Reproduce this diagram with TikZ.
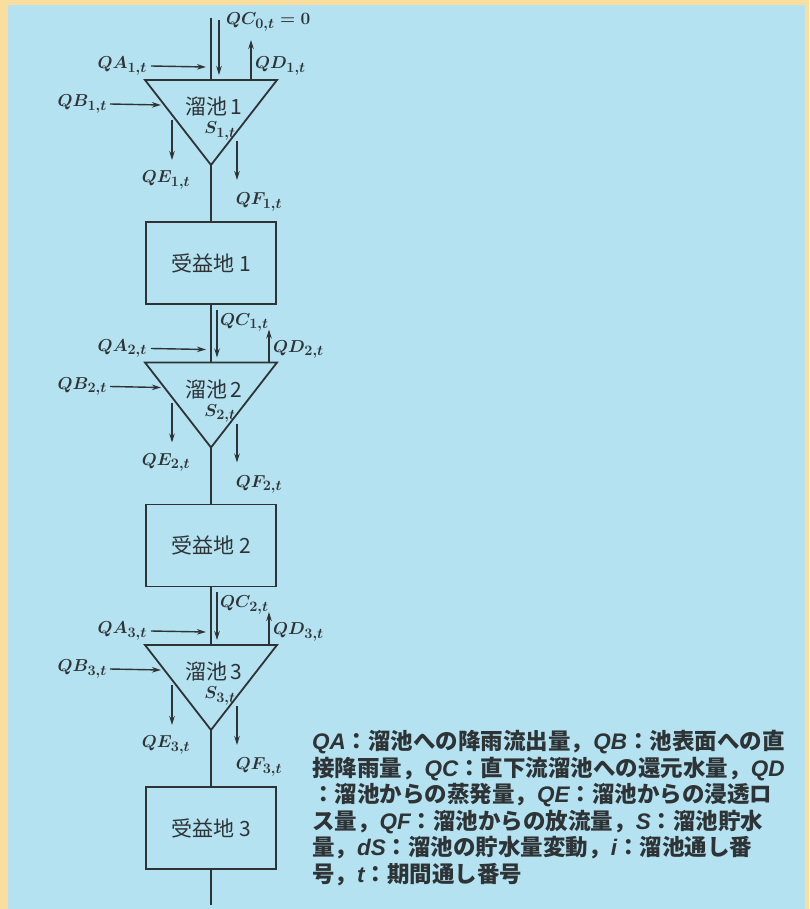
\documentclass[tikz,border=0pt]{standalone}
\usepackage{fontspec}
\usetikzlibrary{arrows.meta,positioning}
\newfontfamily\jpfont{Noto Sans CJK JP}
\newfontfamily\legsans{Liberation Sans}
\definecolor{rpsky}{HTML}{B4E2F0}
\definecolor{rpframe}{HTML}{F9DE9E}
\definecolor{rpink}{HTML}{2E3336}
\tikzstyle{pondline}=[draw=rpink,line width=1.8pt,line join=miter]
\tikzstyle{mainline}=[draw=rpink,line width=1.7pt]
\tikzstyle{flow}=[draw=rpink,line width=1.4pt,-{Stealth[length=9pt,width=5.5pt]}]
\tikzstyle{fieldbox}=[draw=rpink,line width=1.8pt,minimum width=130pt,minimum height=82pt,
  font=\jpfont\fontsize{21}{24}\selectfont,text=rpink,inner sep=0pt]
\tikzstyle{pondtext}=[font=\jpfont\fontsize{21}{24}\selectfont,text=rpink,inner sep=0pt]
\tikzstyle{qlabel}=[font=\fontsize{19}{22}\selectfont\boldmath,text=rpink,inner sep=1pt]
\tikzstyle{legend}=[font=\jpfont\bfseries\fontsize{22.5}{26.5}\selectfont,text=rpink,
  align=left,inner sep=0pt]
\newcommand{\legq}[1]{{\legsans\itshape #1}}

\begin{document}
\begin{tikzpicture}[x=1pt,y=-1pt]
  \fill[rpframe] (0,0) rectangle (809,909);
  \fill[rpsky] (8,5) rectangle (805,909);
  \useasboundingbox (0,0) rectangle (809,909);
  % trunk ends
  \coordinate (top) at (211,18);
  \coordinate (bottom) at (211,905);
  % ponds and fields
  \foreach \i in {1,2,3} {
    \pgfmathsetmacro{\yo}{80+282.5*(\i-1)}
    \coordinate (in\i) at (211,\yo);
    \coordinate (pl\i) at (145,\yo);
    \coordinate (pr\i) at (277,\yo);
    \coordinate (pb\i) at (211,\yo+85);
    \draw[pondline] (pl\i) -- (pr\i) -- (pb\i) -- cycle;
    \node[pondtext] (pn\i) at (214,\yo+27) {溜池\,\i};
    \node[qlabel] (s\i) at (220,\yo+51) {$S_{\i,t}$};
    \node[fieldbox] (field\i) at (211,\yo+183) {受益地\ \i};
    \draw[mainline] (pb\i) -- (field\i.north);
    % inflows
    \node[qlabel,anchor=east,inner xsep=4pt] (qa\i) at (151,\yo-14) {$QA_{\i,t}$};
    \coordinate (qae\i) at (206,\yo-13);
    \draw[flow] (qa\i.east) -- (qae\i);
    \node[qlabel,anchor=east,inner xsep=3pt] (qb\i) at (110,\yo+24) {$QB_{\i,t}$};
    \coordinate (qbe\i) at (161,\yo+25);
    \draw[flow] (qb\i.east) -- (qbe\i);
    % outflows
    \coordinate (qes\i) at (172,\yo+40);
    \coordinate (qee\i) at (172,\yo+80);
    \draw[flow] (qes\i) -- (qee\i);
    \node[qlabel] (qe\i) at (166,\yo+100) {$QE_{\i,t}$};
    \coordinate (qfs\i) at (237,\yo+61);
    \coordinate (qfe\i) at (237,\yo+100);
    \draw[flow] (qfs\i) -- (qfe\i);
    \node[qlabel] (qf\i) at (259,\yo+122) {$QF_{\i,t}$};
  }
  % first pond top
  \draw[mainline] (top) -- (in1);
  \coordinate (qcs1) at (219,20);
  \coordinate (qce1) at (219,75);
  \draw[flow] (qcs1) -- (qce1);
  \node[qlabel,anchor=west] (qc1) at (225,22) {$QC_{0,t}=0$};
  \coordinate (qds1) at (251,80);
  \coordinate (qde1) at (251,40);
  \draw[flow] (qds1) -- (qde1);
  \node[qlabel,anchor=west] (qd1) at (254,66) {$QD_{1,t}$};
  % links between field and next pond
  \foreach \i [evaluate=\i as \j using int(\i-1)] in {2,3} {
    \pgfmathsetmacro{\yo}{80+282.5*(\i-1)}
    \draw[mainline] (field\j.south) -- (in\i);
    \coordinate (qcs\i) at (217,\yo-53);
    \coordinate (qce\i) at (217,\yo-5);
    \draw[flow] (qcs\i) -- (qce\i);
    \node[qlabel,anchor=west] (qc\i) at (219,\yo-40) {$QC_{\j,t}$};
    \coordinate (qds\i) at (269,\yo);
    \coordinate (qde\i) at (269,\yo-33);
    \draw[flow] (qds\i) -- (qde\i);
    \node[qlabel,anchor=west] (qd\i) at (272,\yo-13) {$QD_{\i,t}$};
  }
  \draw[mainline] (field3.south) -- (bottom);
  % legend
  \node[legend,anchor=north west] (legend) at (312,730) {%
    \legq{QA}：溜池への降雨流出量，\legq{QB}：池表面への直\\
    接降雨量，\legq{QC}：直下流溜池への還元水量，\legq{QD}\\
    ：溜池からの蒸発量，\legq{QE}：溜池からの浸透ロ\\
    ス量，\legq{QF}：溜池からの放流量，\legq{S}：溜池貯水\\
    量，\legq{dS}：溜池の貯水量変動，\legq{i}：溜池通し番\\
    号，\legq{t}：期間通し番号};
\end{tikzpicture}
\end{document}
